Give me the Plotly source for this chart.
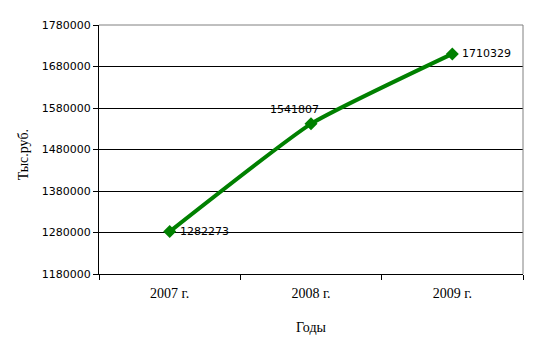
import plotly.graph_objects as go

years = ["2007 г.", "2008 г.", "2009 г."]
values = [1282273, 1541807, 1710329]
label_texts = ["1282273", "1541807", "1710329"]
y_ticks = [1180000, 1280000, 1380000, 1480000, 1580000, 1680000, 1780000]

GREEN = "#008000"
SANS = "DejaVu Sans"
SERIF = "Liberation Serif"

fig = go.Figure()
fig.add_trace(go.Scatter(
    x=years, y=values, mode="lines+markers",
    line=dict(color=GREEN, width=4, shape="spline", smoothing=0.45),
    marker=dict(symbol="diamond", size=10, color=GREEN),
    hoverinfo="skip", showlegend=False,
))

shifts = [(8, 0, "left", "middle"), (-17, 6, "center", "bottom"), (8, 0, "left", "middle")]
for x, y, t, (dx, dy, xa, ya) in zip(years, values, label_texts, shifts):
    fig.add_annotation(x=x, y=y, text=t, showarrow=False, xanchor=xa, yanchor=ya,
                       xshift=dx, yshift=dy, font=dict(family=SANS, size=11, color="black"))

fig.add_annotation(xref="paper", yref="paper", x=-0.2, y=0.48, text="Тыс.руб.", textangle=-90,
                   showarrow=False, font=dict(family=SERIF, size=14, color="black"))
fig.add_annotation(xref="paper", yref="paper", x=0.5, y=-0.215, text="Годы",
                   showarrow=False, yanchor="middle", font=dict(family=SERIF, size=14, color="black"))

fig.add_shape(type="line", xref="paper", yref="paper", x0=0, x1=1, y0=1, y1=1,
              line=dict(color="#808080", width=1), layer="above")
fig.add_shape(type="line", xref="paper", yref="paper", x0=1, x1=1, y0=0, y1=1,
              line=dict(color="#808080", width=1), layer="above")

fig.update_layout(
    width=536, height=347,
    margin=dict(l=99, r=13, t=25, b=73),
    paper_bgcolor="white", plot_bgcolor="white",
    xaxis=dict(type="category", tickson="boundaries", ticks="outside", ticklen=5,
               tickcolor="black", showline=True, linecolor="black", linewidth=1,
               showgrid=False, range=[-0.5, 2.5], ticklabelstandoff=6,
               tickfont=dict(family=SERIF, size=14, color="black")),
    yaxis=dict(range=[1180000, 1780000], tickvals=y_ticks, ticktext=[str(v) for v in y_ticks],
               ticks="outside", ticklen=5, tickcolor="black",
               showline=True, linecolor="black", linewidth=1,
               showgrid=True, gridcolor="black", gridwidth=1, zeroline=False,
               tickfont=dict(family=SANS, size=11, color="black")),
)

fig.write_html("out.html")
